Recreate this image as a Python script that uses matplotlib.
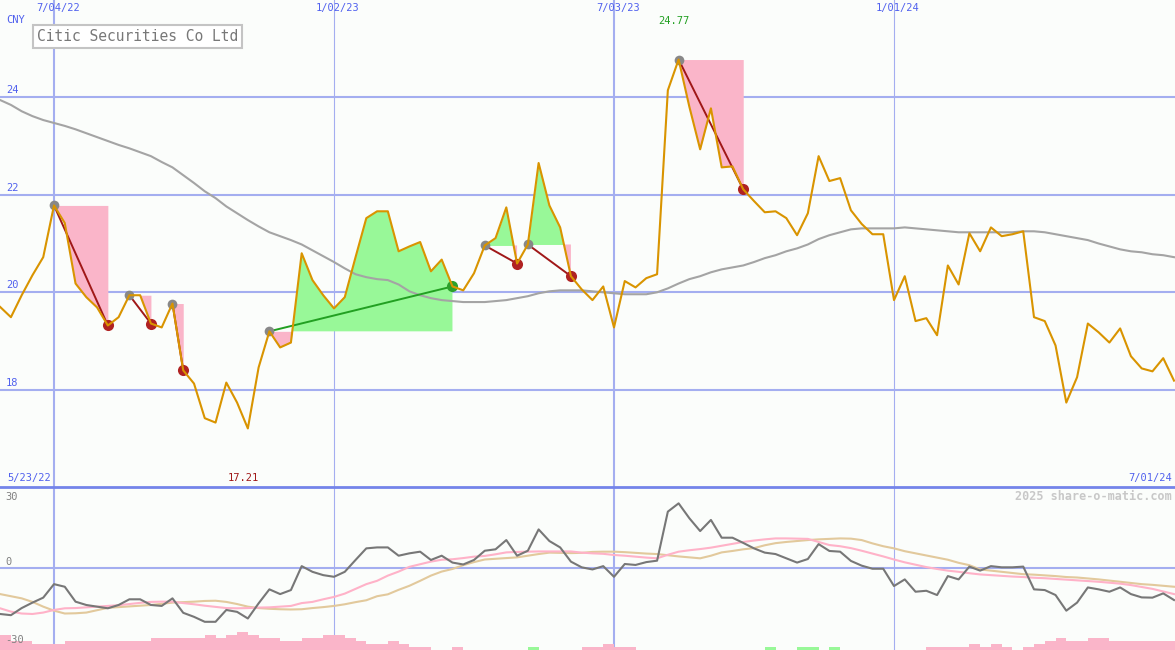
import matplotlib
matplotlib.use('Agg')
import matplotlib.pyplot as plt
from matplotlib.lines import Line2D
import numpy as np
import pandas as pd

# weekly data, Citic Securities Co Ltd (CNY), weeks of 5/23/22 .. 7/01/24
dates = pd.date_range('2022-05-23', periods=111, freq='W-MON')

price = [19.90, 19.70, 19.49, 19.94, 20.35, 20.72, 21.78, 21.42, 20.18, 19.90,
         19.69, 19.32, 19.49, 19.94, 19.94, 19.36, 19.28, 19.77, 18.40, 18.13,
         17.42, 17.33, 18.15, 17.74, 17.21, 18.46, 19.20, 18.87, 18.97, 20.80,
         20.25, 19.94, 19.67, 19.90, 20.72, 21.52, 21.66, 21.66, 20.84, 20.94,
         21.03, 20.43, 20.67, 20.12, 20.04, 20.39, 20.96, 21.11, 21.74, 20.59,
         20.98, 22.65, 21.78, 21.33, 20.33, 20.06, 19.84, 20.12, 19.28, 20.23,
         20.10, 20.29, 20.37, 24.14, 24.77, 23.80, 22.93, 23.77, 22.56, 22.58,
         22.11, 21.87, 21.64, 21.66, 21.52, 21.17, 21.62, 22.79, 22.28, 22.34,
         21.68, 21.40, 21.19, 21.19, 19.84, 20.33, 19.41, 19.47, 19.12, 20.55,
         20.16, 21.21, 20.84, 21.33, 21.15, 21.19, 21.25, 19.49, 19.41, 18.91,
         17.74, 18.26, 19.36, 19.18, 18.97, 19.26, 18.69, 18.44, 18.38, 18.65, 18.19]

ma_long = [24.04, 23.94, 23.84, 23.71, 23.61, 23.53, 23.47, 23.41, 23.34, 23.26,
           23.18, 23.10, 23.02, 22.95, 22.87, 22.79, 22.67, 22.56, 22.40, 22.24,
           22.07, 21.93, 21.76, 21.62, 21.48, 21.35, 21.23, 21.15, 21.07, 20.98,
           20.86, 20.74, 20.62, 20.49, 20.37, 20.31, 20.27, 20.25, 20.16, 20.02,
           19.94, 19.88, 19.84, 19.82, 19.80, 19.80, 19.80, 19.82, 19.84, 19.88,
           19.92, 19.98, 20.02, 20.04, 20.04, 20.04, 20.02, 20.00, 19.98, 19.96,
           19.96, 19.96, 20.00, 20.08, 20.18, 20.27, 20.33, 20.41, 20.47, 20.51,
           20.55, 20.62, 20.70, 20.76, 20.84, 20.90, 20.98, 21.09, 21.17, 21.23,
           21.29, 21.31, 21.31, 21.31, 21.31, 21.33, 21.31, 21.29, 21.27, 21.25,
           21.23, 21.23, 21.23, 21.23, 21.23, 21.23, 21.25, 21.25, 21.23, 21.19,
           21.15, 21.11, 21.07, 21.00, 20.94, 20.88, 20.84, 20.82, 20.78, 20.76, 20.72]

osc = [-20.0, -19.4, -19.9, -16.9, -14.6, -12.5, -6.8, -7.9, -14.2, -15.6,
       -16.3, -17.0, -15.6, -13.2, -13.2, -15.6, -16.0, -12.8, -18.9, -20.6,
       -22.7, -22.7, -17.7, -18.5, -21.3, -14.9, -9.0, -11.0, -9.3, 0.8,
       -1.6, -3.0, -3.7, -1.6, 3.4, 8.3, 8.7, 8.7, 5.2, 6.2,
       6.9, 3.4, 5.2, 2.3, 1.5, 3.4, 7.3, 7.9, 11.8, 5.2,
       7.3, 16.3, 11.4, 8.7, 2.7, 0.3, -0.6, 0.8, -3.7, 1.7,
       1.3, 2.5, 3.1, 23.8, 27.3, 21.0, 15.6, 20.3, 12.8, 12.8,
       10.6, 8.3, 6.5, 5.9, 4.1, 2.3, 3.8, 10.1, 7.2, 6.9,
       3.0, 1.0, -0.3, -0.3, -7.6, -4.8, -10.0, -9.6, -11.4, -3.4,
       -4.8, 0.6, -1.1, 0.8, 0.3, 0.3, 0.6, -9.0, -9.3, -11.4,
       -18.0, -14.6, -8.2, -9.0, -10.0, -8.2, -11.0, -12.4, -12.5, -10.7, -13.5]

osc_fast = [-16.5, -17.0, -18.4, -19.2, -19.4, -18.8, -17.7, -17.0, -16.9, -16.6,
            -16.3, -16.0, -15.7, -15.2, -14.7, -14.3, -14.2, -14.2, -14.8, -15.3,
            -15.9, -16.4, -16.9, -17.0, -16.9, -16.7, -16.6, -16.3, -16.0, -14.8,
            -14.3, -13.2, -12.2, -10.8, -8.8, -6.8, -5.4, -3.2, -1.5, 0.5,
            1.6, 2.7, 3.5, 3.7, 4.2, 4.8, 5.1, 5.8, 6.6, 6.8,
            6.9, 7.0, 7.0, 7.0, 7.0, 6.5, 6.2, 6.0, 5.5, 5.2,
            4.8, 4.4, 4.1, 5.6, 6.9, 7.5, 8.0, 8.6, 9.4, 10.2,
            11.0, 11.6, 12.1, 12.5, 12.5, 12.4, 12.3, 11.0, 9.7, 9.2,
            8.4, 7.3, 6.1, 4.9, 3.6, 2.4, 1.4, 0.4, -0.4, -1.1,
            -1.6, -2.2, -2.7, -3.0, -3.3, -3.6, -3.8, -4.1, -4.3, -4.6,
            -4.9, -5.2, -5.5, -5.8, -6.2, -6.6, -7.2, -8.0, -8.8, -9.9, -11.0]

osc_slow = [-10.0, -11.0, -11.9, -12.8, -14.3, -16.3, -18.0, -19.2, -19.1, -18.8,
            -17.8, -16.8, -16.5, -16.2, -15.9, -15.6, -15.1, -14.6, -14.4, -14.2,
            -13.9, -13.8, -14.3, -15.2, -16.3, -16.9, -17.2, -17.4, -17.5, -17.4,
            -16.9, -16.5, -16.0, -15.3, -14.4, -13.6, -11.9, -11.1, -9.2, -7.5,
            -5.4, -3.2, -1.5, -0.4, 1.2, 2.5, 3.6, 3.9, 4.2, 4.5,
            5.2, 5.9, 6.5, 6.4, 6.3, 6.4, 6.8, 6.9, 6.9, 6.7,
            6.4, 6.1, 5.9, 5.4, 4.9, 4.5, 4.1, 5.2, 6.6, 7.2,
            7.9, 8.4, 9.6, 10.5, 11.0, 11.4, 11.8, 12.1, 12.3, 12.5,
            12.4, 11.8, 10.4, 9.2, 8.3, 7.1, 6.2, 5.3, 4.4, 3.5,
            2.2, 1.2, -0.6, -1.1, -1.6, -2.1, -2.6, -2.8, -3.1, -3.4,
            -3.8, -4.0, -4.4, -4.8, -5.3, -5.8, -6.3, -6.8, -7.1, -7.5, -7.9]

# signal bars along the bottom: negative = pink, positive = green
bars = [-5, -5, -3, -3, -2, -2, -2, -3, -3, -3,
        -3, -3, -3, -3, -3, -4, -4, -4, -4, -4,
        -5, -4, -5, -6, -5, -4, -4, -3, -3, -4,
        -4, -5, -5, -4, -3, -2, -2, -3, -2, -1,
        -1, 0, 0, -1, 0, 0, 0, 0, 0, 0,
        1, 0, 0, 0, 0, -1, -1, -2, -1, -1,
        0, 0, 0, 0, 0, 0, 0, 0, 0, 0,
        0, 0, 1, 0, 0, 1, 1, 0, 1, 0,
        0, 0, 0, 0, 0, 0, 0, -1, -1, -1,
        -1, -2, -1, -2, -1, 0, -1, -2, -3, -4,
        -3, -3, -4, -4, -3, -3, -3, -3, -3, -3, -3]

drop_start = [6, 13, 17, 46, 50, 64]
drop_end = [11, 15, 18, 49, 54, 70]
rise_start = [26]
rise_end = [43]

grid_dates = ['2022-07-04', '2023-01-02', '2023-07-03', '2024-01-01']
price_ticks = [18, 20, 22, 24]
osc_ticks = [-30, 0, 30]

#### styles ####
BG = '#fbfdfb'
GRID = '#a4aef0'
SEP = '#7484ea'
LBL = '#5060ee'
ORANGE = '#d99400'
PINK_FILL = '#fab5c9'
GREEN_FILL = '#98f898'
MONO = 'DejaVu Sans Mono'

W, H = 1175, 650
fig = plt.figure(figsize=(W/100, H/100), dpi=100, facecolor=BG)
ax = fig.add_axes([0, 163/H, 1, 487/H], facecolor=BG)
axb = fig.add_axes([0, 0, 1, 163/H], facecolor=BG)

idx = np.arange(len(dates))
p = np.array(price)
pxw = (894 - 54) / 78.0
x0 = 6 - 54 / pxw
x1 = 84 + (W - 894) / pxw
for a in (ax, axb):
	a.set_xlim(x0, x1)
	a.set_xticks([])
	a.set_yticks([])
	for s in a.spines.values():
		s.set_visible(False)
ax.set_ylim(16.01, 25.99)
axb.set_ylim(-34.6, 34.2)

#### grid ####
gidx = [int(np.where(dates == pd.Timestamp(d))[0][0]) for d in grid_dates]
for k, g in enumerate(gidx):
	lw = 1.5 if k % 2 == 0 else 0.8
	ax.axvline(g, color=GRID, lw=lw, zorder=0)
	axb.axvline(g, color=GRID, lw=lw, zorder=0)
	ax.annotate(dates[g].strftime('%-m/%d/%y'), xy=(g, 1), xycoords=('data', 'axes fraction'),
				xytext=(4, -8), textcoords='offset pixels', ha='center', va='center',
				color=LBL, fontsize=7.5, family=MONO)
for t in price_ticks:
	ax.axhline(t, color=GRID, lw=1.5, zorder=0)
	ax.annotate(str(t), xy=(0, t), xycoords=('axes fraction', 'data'), xytext=(6, 2),
				textcoords='offset pixels', ha='left', va='bottom', color=LBL, fontsize=7.5, family=MONO)
axb.axhline(0, color=GRID, lw=1.5, zorder=0)
fig.add_artist(Line2D([0, 1], [163/H, 163/H], color=SEP, lw=2, transform=fig.transFigure))

#### main panel ####
ax.plot(idx, ma_long, color='#a4a4a4', lw=1.5, zorder=2)

def shade(a, b, line_color, end_color):
	xs = idx[a:b+1]
	ys = p[a:b+1]
	lvl = p[a]
	ax.fill_between(xs, ys, lvl, where=ys >= lvl, interpolate=True, color=GREEN_FILL, lw=0, zorder=1)
	ax.fill_between(xs, ys, lvl, where=ys <= lvl, interpolate=True, color=PINK_FILL, lw=0, zorder=1)
	ax.plot([a, b], [p[a], p[b]], color=line_color, lw=1.4, zorder=3)
	ax.plot(a, p[a], 'o', color='#888888', ms=7, mew=0, zorder=4)
	ax.plot(b, p[b], 'o', color=end_color, ms=8, mew=0, zorder=4)

for a, b in zip(drop_start, drop_end):
	shade(a, b, '#a01818', '#b02222')
for a, b in zip(rise_start, rise_end):
	shade(a, b, '#22a022', '#2ca02c')

ax.plot(idx, p, color=ORANGE, lw=1.5, zorder=5)

imax = int(np.argmax(p))
imin = int(np.argmin(p))
ax.annotate('{:.2f}'.format(p[imax]), xy=(imax, 1), xycoords=('data', 'axes fraction'),
			xytext=(-5, -21), textcoords='offset pixels', ha='center', va='center',
			color='#22a022', fontsize=7.5, family=MONO)
ax.annotate('{:.2f}'.format(p[imin]), xy=(imin, 0), xycoords=('data', 'axes fraction'),
			xytext=(-5, 9), textcoords='offset pixels', ha='center', va='center',
			color='#a01818', fontsize=7.5, family=MONO)

fig.text(6/W, 1-20/H, 'CNY', color=LBL, fontsize=7.5, family=MONO, ha='left', va='center')
fig.text(37/W, 1-36.5/H, 'Citic Securities Co Ltd', color='#787878', fontsize=10.5, family=MONO,
		 ha='left', va='center',
		 bbox=dict(boxstyle='square,pad=0.25', fc='white', ec='#c4c4c4', lw=1.5))
ax.annotate(dates[0].strftime('%-m/%d/%y'), xy=(0, 0), xycoords='axes fraction', xytext=(7, 9),
			textcoords='offset pixels', ha='left', va='center', color=LBL, fontsize=7.5, family=MONO)
ax.annotate(dates[-1].strftime('%-m/%d/%y'), xy=(1, 0), xycoords='axes fraction', xytext=(-3, 9),
			textcoords='offset pixels', ha='right', va='center', color=LBL, fontsize=7.5, family=MONO)

#### lower panel ####
b = np.array(bars, dtype=float)
lvl_h = 1.27
axb.bar(idx, np.abs(b) * lvl_h, width=1.0, align='edge', bottom=-34.6,
		color=[PINK_FILL if v < 0 else GREEN_FILL for v in b], lw=0, zorder=1)
axb.plot(idx, osc_slow, color='#e2c99c', lw=1.5, zorder=2)
axb.plot(idx, osc_fast, color='#ffb2c8', lw=1.5, zorder=3)
axb.plot(idx, osc, color='#777777', lw=1.5, zorder=4)

for t, dy in zip(osc_ticks, (-1, 6, 0)):
	axb.annotate(str(t), xy=(0, t), xycoords=('axes fraction', 'data'), xytext=(5, dy),
				 textcoords='offset pixels', ha='left', va='center', color='#808080', fontsize=7.5, family=MONO)
axb.annotate('2025 share-o-matic.com', xy=(1, 1), xycoords='axes fraction', xytext=(-3, -9),
			 textcoords='offset pixels', ha='right', va='center', color='#c8c8c8',
			 fontsize=8.5, family=MONO, fontweight='bold')

plt.savefig('out.png', dpi=100, facecolor=BG)
